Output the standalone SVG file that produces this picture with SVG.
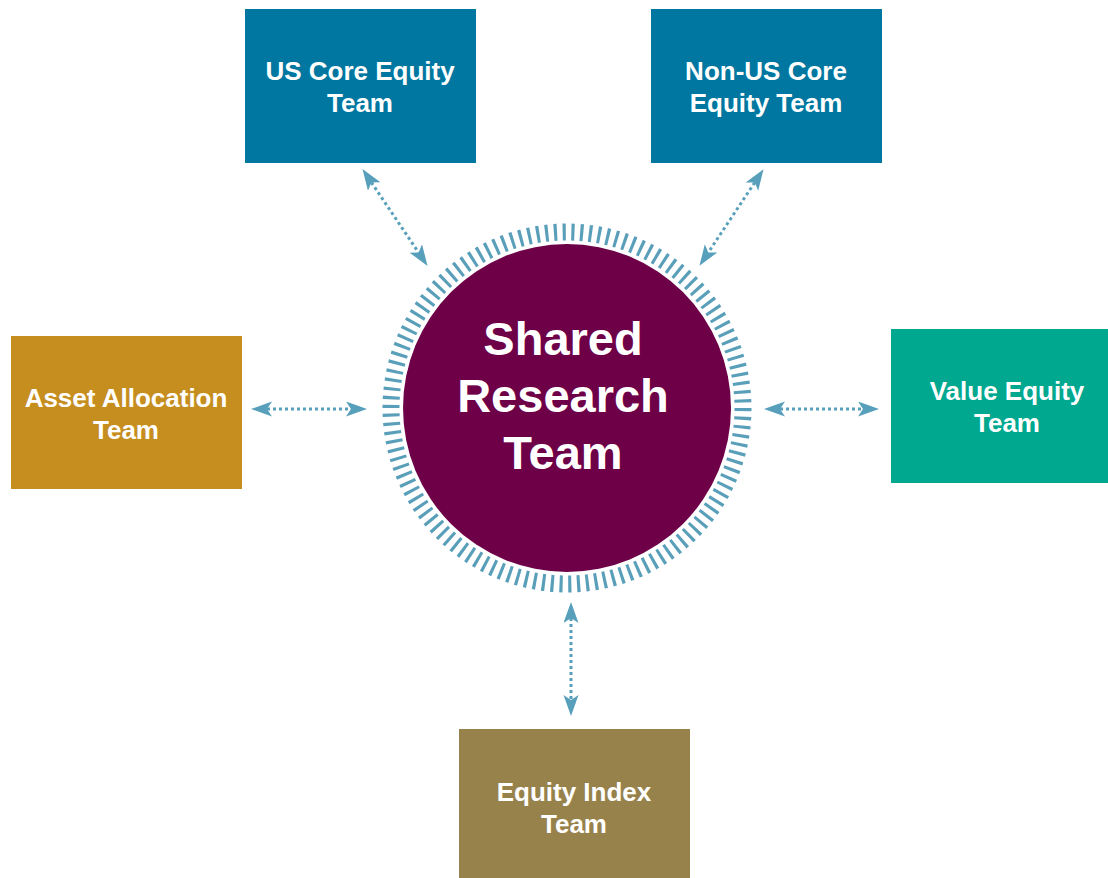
<svg xmlns="http://www.w3.org/2000/svg" width="1108" height="878" viewBox="0 0 1108 878">
<style>
.lbl{font-family:"Liberation Sans",Arial,sans-serif;font-weight:bold;font-size:26px;fill:#fff;text-anchor:middle}
.big{font-family:"Liberation Sans",Arial,sans-serif;font-weight:bold;font-size:47px;fill:#fff;text-anchor:middle}
.conn{stroke:#579fba;stroke-width:3;stroke-dasharray:3 3;fill:none;marker-start:url(#ah);marker-end:url(#ah)}
</style>
<defs>
<marker id="ah" markerUnits="userSpaceOnUse" markerWidth="23" markerHeight="17" refX="5" refY="7.5" orient="auto-start-reverse">
<path d="M0,0 L21,7.5 L0,15 L5,7.5 Z" fill="#579fba"/>
</marker>
</defs>
<rect width="1108" height="878" fill="#fff"/>
<g id="shared-research">
<circle cx="567" cy="408" r="176" fill="none" stroke="#5a9fb9" stroke-width="17" pathLength="126" stroke-dasharray="0.36 0.64"/>
<circle cx="567" cy="408" r="164" fill="#6e0048"/>
<text class="big" x="563" y="355">Shared</text>
<text class="big" x="563" y="412">Research</text>
<text class="big" x="563" y="469">Team</text>
</g>
<g id="us-core">
<rect x="245" y="9" width="231" height="154" fill="#0077a0"/>
<text class="lbl" x="360" y="80">US Core Equity</text>
<text class="lbl" x="360" y="112">Team</text>
</g>
<g id="non-us-core">
<rect x="651" y="9" width="231" height="154" fill="#0077a0"/>
<text class="lbl" x="766" y="80">Non-US Core</text>
<text class="lbl" x="766" y="112">Equity Team</text>
</g>
<g id="asset-allocation">
<rect x="11" y="336" width="231" height="153" fill="#c68e1e"/>
<text class="lbl" x="126" y="407">Asset Allocation</text>
<text class="lbl" x="126" y="439">Team</text>
</g>
<g id="value-equity">
<rect x="891" y="329" width="231" height="154" fill="#00a88f"/>
<text class="lbl" x="1007" y="400">Value Equity</text>
<text class="lbl" x="1007" y="432">Team</text>
</g>
<g id="equity-index">
<rect x="459" y="729" width="231" height="160" fill="#97824b"/>
<text class="lbl" x="574" y="801">Equity Index</text>
<text class="lbl" x="574" y="833">Team</text>
</g>
<g id="connectors">
<line class="conn" x1="267" y1="409" x2="351" y2="409"/>
<line class="conn" x1="780" y1="409" x2="863" y2="409"/>
<line class="conn" x1="571" y1="618" x2="571" y2="700"/>
<line class="conn" x1="371.4" y1="182.4" x2="418.6" y2="252.6"/>
<line class="conn" x1="754.7" y1="182.5" x2="708.3" y2="252.5"/>
</g>
</svg>
